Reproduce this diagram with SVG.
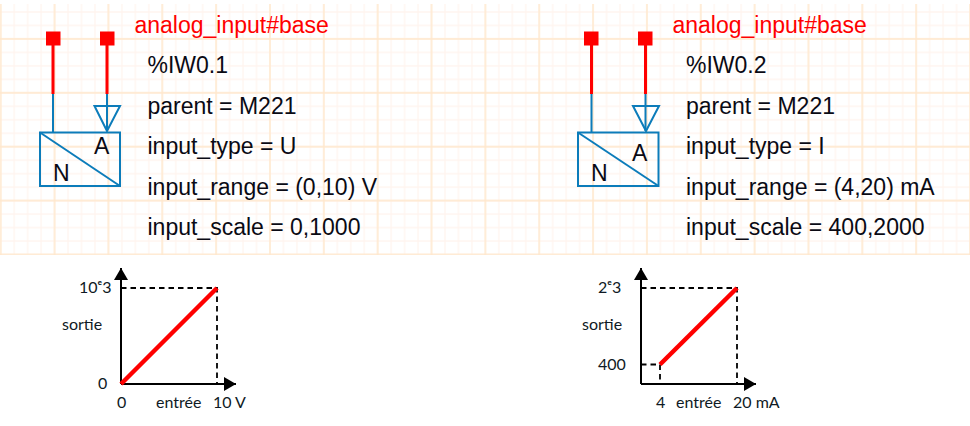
<svg xmlns="http://www.w3.org/2000/svg" width="970" height="426" viewBox="0 0 970 426">
<style>
.t{font-family:"Liberation Sans",Arial,sans-serif;font-size:23px;fill:#0a0a14}
.r{font-family:"Liberation Sans",Arial,sans-serif;font-size:23px;fill:#ff0000}
.l{font-family:"Liberation Sans",Arial,sans-serif;font-size:23px;fill:#0a0a14}
.c{font-family:Lato,"Open Sans",sans-serif;font-size:16px;fill:#0f1a24}
.b{fill:none;stroke:#0c7cba;stroke-width:2}
.w{stroke:#ff0000;stroke-width:3;fill:none}
.s{fill:#ff0000}
.ax{stroke:#000;stroke-width:2;fill:none}
.d{stroke:#000;stroke-width:1.8;stroke-dasharray:5.5 4;fill:none}
.k{stroke:#ff0000;stroke-width:4.5;fill:none}
</style>
<defs>
<pattern id="minor" patternUnits="userSpaceOnUse" x="-6" y="-21.7" width="13.4625" height="13.475">
<path d="M6.73 0V13.475M0 6.74H13.4625" stroke="#fff5ef" stroke-width="1.3" fill="none"/>
</pattern>
<pattern id="major" patternUnits="userSpaceOnUse" x="-26.2" y="-41.95" width="53.85" height="53.9">
<path d="M26.925 0V53.9M0 26.95H53.85" stroke="#ffe8cc" stroke-width="1.4" fill="none"/>
</pattern>
<marker id="ah" markerUnits="userSpaceOnUse" markerWidth="14" markerHeight="14" refX="12" refY="7" orient="auto">
<path d="M0 0L12 7L0 14Z" fill="#000"/>
</marker>
</defs>
<rect width="970" height="426" fill="#fff"/>
<g id="grid">
<rect x="0" y="4" width="970" height="251" fill="url(#minor)"/>
<rect x="0" y="4" width="970" height="251" fill="url(#major)"/>
</g>
<g id="connectors">
<path class="w" d="M53 38V94M107 38V94"/>
<path class="b" d="M53 94V132M107 94V131"/>
<path class="w" d="M591.500 38V94M645.500 38V94"/>
<path class="b" d="M591.500 94V132M645.500 94V131"/>
</g>
<g id="node1">
<rect class="s" x="46" y="31.500" width="14.500" height="14"/>
<rect class="s" x="100" y="31.500" width="14.500" height="14"/>
<path class="b" d="M94.500 106H120L107 131Z"/>
<rect class="b" x="40" y="132.500" width="80" height="53.500"/>
<path class="b" d="M40 132.500L120 186"/>
<text class="l" x="94" y="154">A</text>
<text class="l" x="53" y="181">N</text>
<text class="r" x="134.500" y="33">analog_input#base</text>
<text class="t" x="147.500" y="73">%IW0.1</text>
<text class="t" x="147.500" y="114">parent = M221</text>
<text class="t" x="147.500" y="154">input_type = U</text>
<text class="t" x="147.500" y="195">input_range = (0,10) V</text>
<text class="t" x="147.500" y="235">input_scale = 0,1000</text>
</g>
<g id="node2">
<rect class="s" x="584" y="31.500" width="14.500" height="14"/>
<rect class="s" x="638" y="31.500" width="14.500" height="14"/>
<path class="b" d="M633 106H659L646 131Z"/>
<rect class="b" x="578" y="132.500" width="80.500" height="53.500"/>
<path class="b" d="M578 132.500L658.500 186"/>
<text class="l" x="632" y="161">A</text>
<text class="l" x="591" y="181">N</text>
<text class="r" x="672.500" y="33">analog_input#base</text>
<text class="t" x="686" y="73">%IW0.2</text>
<text class="t" x="686" y="114">parent = M221</text>
<text class="t" x="686" y="154">input_type = I</text>
<text class="t" x="686" y="195">input_range = (4,20) mA</text>
<text class="t" x="686" y="235">input_scale = 400,2000</text>
</g>
<g id="chart1">
<path class="ax" d="M121 384V268" marker-end="url(#ah)"/>
<path class="ax" d="M121 384H236" marker-end="url(#ah)"/>
<path class="d" d="M121 288H217V384"/>
<path class="k" d="M121 384L217 288"/>
<text class="c" x="79" y="293">10ᵉ3</text>
<text class="c" x="62" y="330">sortie</text>
<text class="c" x="98" y="389">0</text>
<text class="c" x="117" y="408">0</text>
<text class="c" x="156" y="408">entrée</text>
<text class="c" x="213" y="408">10 V</text>
</g>
<g id="chart2">
<path class="ax" d="M641 384V268" marker-end="url(#ah)"/>
<path class="ax" d="M641 384H756" marker-end="url(#ah)"/>
<path class="d" d="M641 288H737V384M641 364.500H660V384"/>
<path class="k" d="M660 364.500L737 288"/>
<text class="c" x="598" y="293">2ᵉ3</text>
<text class="c" x="582" y="330">sortie</text>
<text class="c" x="598" y="370">400</text>
<text class="c" x="656" y="408">4</text>
<text class="c" x="676" y="408">entrée</text>
<text class="c" x="733" y="408">20 mA</text>
</g>
</svg>
